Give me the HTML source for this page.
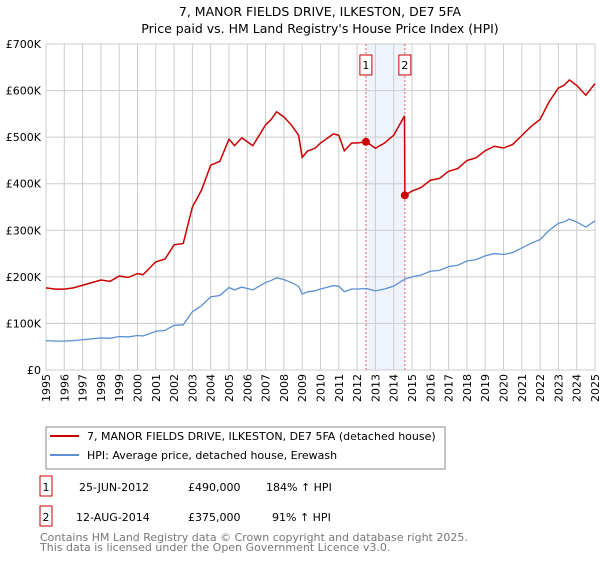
<!DOCTYPE html>
<html><head><meta charset="utf-8"><style>
body{margin:0;background:#fff;font-family:"Liberation Sans","DejaVu Sans",sans-serif;}
svg text{font-family:"DejaVu Sans","Liberation Sans",sans-serif;}
</style></head><body>
<svg id="chart" width="600" height="560" xmlns="http://www.w3.org/2000/svg">
<text x="320" y="16" text-anchor="middle" font-size="12.5">7, MANOR FIELDS DRIVE, ILKESTON, DE7 5FA</text>
<text x="320" y="33" text-anchor="middle" font-size="12.5">Price paid vs. HM Land Registry's House Price Index (HPI)</text>
<g id="grid"></g><g id="marks"></g><g id="axes"></g>
<g>
<rect x="46" y="427" width="399" height="42" fill="#fff" stroke="#888"/>
<line x1="50" y1="434" x2="79" y2="434" stroke="#cc0000" stroke-width="2" transform="translate(0,2)"/>
<text x="87" y="440" font-size="11">7, MANOR FIELDS DRIVE, ILKESTON, DE7 5FA (detached house)</text>
<line x1="50" y1="453" x2="79" y2="453" stroke="#5b8fd4" stroke-width="2" transform="translate(0,2)"/>
<text x="87" y="459" font-size="11">HPI: Average price, detached house, Erewash</text>
</g>
<g font-size="11">
<rect x="40" y="476" width="12" height="20" fill="none" stroke="#cc0000"/><text x="46" y="491" text-anchor="middle">1</text>
<text x="79" y="491">25-JUN-2012</text><text x="188" y="491">£490,000</text><text x="266" y="491">184% ↑ HPI</text>
<rect x="40" y="506" width="12" height="20" fill="none" stroke="#cc0000"/><text x="46" y="521" text-anchor="middle">2</text>
<text x="76" y="521">12-AUG-2014</text><text x="188" y="521">£375,000</text><text x="272" y="521">91% ↑ HPI</text>
</g>
<text x="40" y="541" font-size="11" fill="#777">Contains HM Land Registry data © Crown copyright and database right 2025.</text>
<text x="40" y="551" font-size="11" fill="#777">This data is licensed under the Open Government Licence v3.0.</text>
</svg>
<script>
const hpiYears=[1995,1995.5,1996,1996.5,1997,1997.5,1998,1998.5,1999,1999.5,2000,2000.3,2001,2001.5,2002,2002.5,2003,2003.5,2004,2004.5,2005,2005.3,2005.7,2006,2006.3,2006.7,2007,2007.3,2007.6,2008,2008.4,2008.8,2009,2009.3,2009.7,2010,2010.4,2010.7,2011,2011.3,2011.7,2012,2012.5,2013,2013.5,2014,2014.6,2015,2015.5,2016,2016.5,2017,2017.5,2018,2018.5,2019,2019.5,2020,2020.5,2021,2021.5,2022,2022.5,2023,2023.3,2023.6,2024,2024.5,2025];
const hpiValues=[63,62,62,63,65,67,69,68,72,71,74,73,83,85,96,97,125,138,157,160,177,172,178,175,172,181,188,192,198,194,188,180,163,168,170,174,178,181,180,168,174,174,175,170,174,180,195,200,204,212,214,222,225,234,237,245,250,248,252,262,272,280,300,315,318,324,318,307,320];
const saleDates=[2012.48,2014.61];
const salePrices=[490,375];
const yTicks=[0,100,200,300,400,500,600,700];
const yTickLabels=["£0","£100K","£200K","£300K","£400K","£500K","£600K","£700K"];
const xTicks=[1995,1996,1997,1998,1999,2000,2001,2002,2003,2004,2005,2006,2007,2008,2009,2010,2011,2012,2013,2014,2015,2016,2017,2018,2019,2020,2021,2022,2023,2024,2025];
const X0=46,X1=595,Y0=370,Y1=44;
const x=y=>X0+(y-1995)/30*(X1-X0);
const yv=v=>Y0-v/700*(Y0-Y1);
const NS="http://www.w3.org/2000/svg";
function mk(t,a,p){const e=document.createElementNS(NS,t);for(const k in a)e.setAttribute(k,a[k]);p.appendChild(e);return e;}
const grid=document.getElementById('grid'),marks=document.getElementById('marks'),axes=document.getElementById('axes');
function hpiAt(t){for(let i=1;i<hpiYears.length;i++){if(t<=hpiYears[i]){const f=(t-hpiYears[i-1])/(hpiYears[i]-hpiYears[i-1]);return hpiValues[i-1]+f*(hpiValues[i]-hpiValues[i-1]);}}return hpiValues[hpiValues.length-1];}
const shade=mk('rect',{x:x(saleDates[0]),y:Y1,width:x(saleDates[1])-x(saleDates[0]),height:Y0-Y1,fill:'#eef3fc'},grid);


xTicks.forEach(t=>{const l=mk('line',{x1:x(t),x2:x(t),y1:Y1,y2:Y0,stroke:'#ccc'},grid);


const tx=mk('text',{x:0,y:0,'font-size':11,'text-anchor':'end',transform:`translate(${x(t)+4},${Y0+4}) rotate(-90)`},axes);tx.textContent=t;

});
yTicks.forEach((v,i)=>{const l=mk('line',{x1:X0,x2:X1,y1:yv(v),y2:yv(v),stroke:'#ccc'},grid);


const tx=mk('text',{x:X0-5,y:yv(v)+4,'font-size':11,'text-anchor':'end'},axes);tx.textContent=yTickLabels[i];

});
mk('line',{x1:X0,x2:X0,y1:Y1,y2:Y0,stroke:'#ccc'},grid);
// sale markers
saleDates.forEach((d,i)=>{const l=mk('line',{x1:x(d),x2:x(d),y1:Y1,y2:Y0,stroke:'#e06666','stroke-dasharray':'2,2'},marks);


const r=mk('rect',{x:x(d)-6,y:55,width:12,height:20,fill:'#fff',stroke:'#cc0000'},marks);


const tx=mk('text',{x:x(d),y:69,'font-size':11,'text-anchor':'middle'},marks);tx.textContent=i+1;

});
// HPI line
const hp=mk('polyline',{points:hpiYears.map((t,i)=>x(t)+','+yv(hpiValues[i])).join(' '),fill:'none',stroke:'#5b8fd4','stroke-width':1.3},marks);


// property line: indexed from sales
const r1=salePrices[0]/hpiAt(saleDates[0]),r2=salePrices[1]/hpiAt(saleDates[1]);
const pts=[];
hpiYears.forEach((t,i)=>{if(t<saleDates[1])pts.push([t,hpiValues[i]*r1]);});
pts.push([saleDates[1]-0.02,hpiAt(saleDates[1]-0.02)*r1]);
pts.push([saleDates[1],salePrices[1]]);
hpiYears.forEach((t,i)=>{if(t>saleDates[1])pts.push([t,hpiValues[i]*r2]);});
const pl=mk('polyline',{points:pts.map(p=>x(p[0])+','+yv(p[1])).join(' '),fill:'none',stroke:'#cc0000','stroke-width':1.5},marks);


saleDates.forEach((d,i)=>{const c=mk('circle',{cx:x(d),cy:yv(salePrices[i]),r:4,fill:'#cc0000'},marks);

});
</script>
</body></html>
